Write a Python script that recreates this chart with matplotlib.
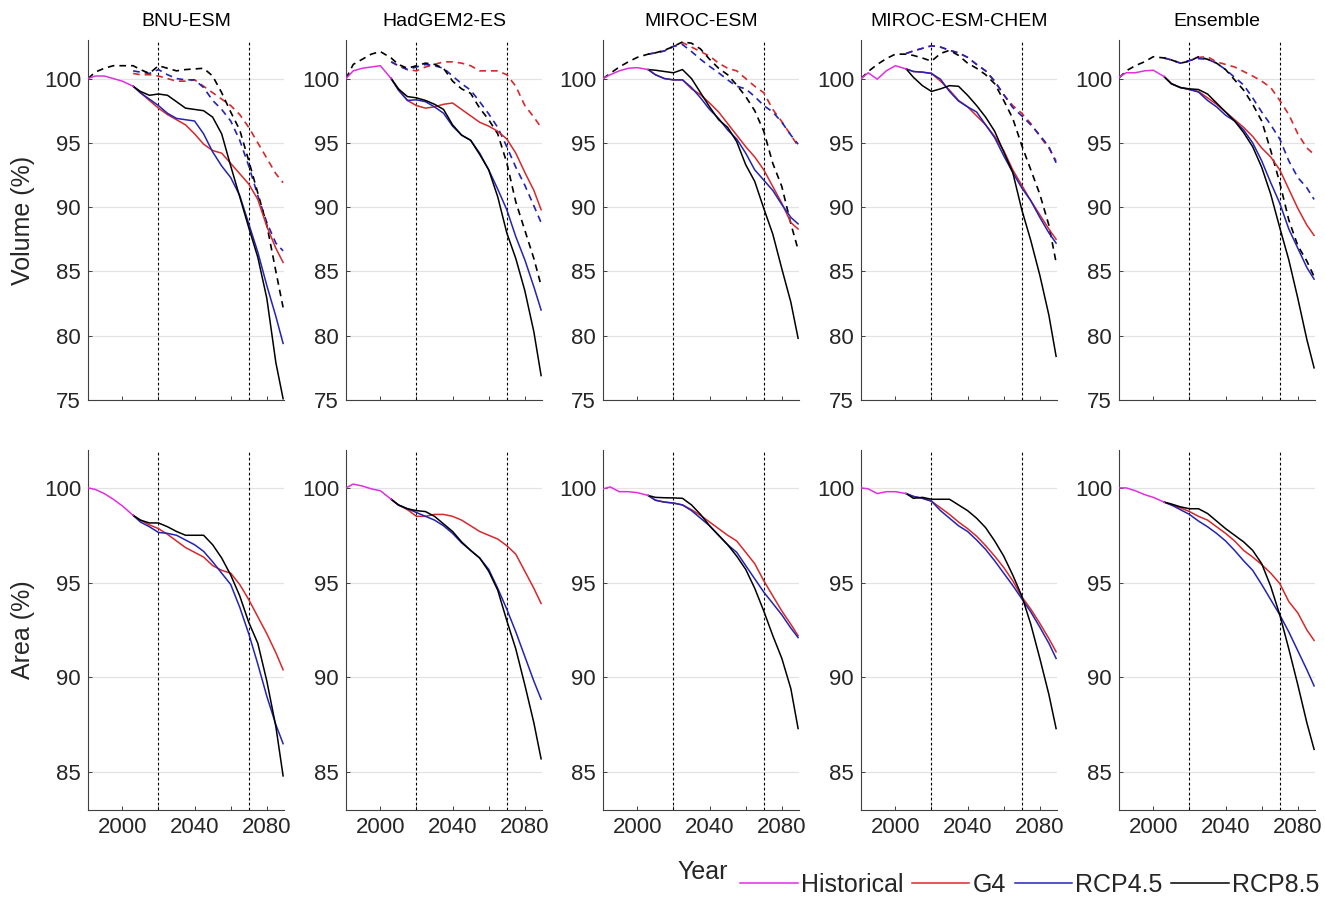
import numpy as np
import matplotlib.pyplot as plt
from matplotlib.lines import Line2D

plt.rcParams['font.family'] = ['Liberation Sans', 'DejaVu Sans']

### Data ###

models = ['BNU-ESM', 'HadGEM2-ES', 'MIROC-ESM', 'MIROC-ESM-CHEM', 'Ensemble']

hist_years = [1981, 1985, 1990, 1995, 2000, 2006]
fut_years = [2006, 2010, 2015, 2020, 2025, 2030, 2035, 2040, 2045, 2050,
             2055, 2060, 2065, 2070, 2075, 2080, 2085, 2089]
full_years = hist_years + fut_years[1:]

# BNU-ESM #
bnu_vol_hist = [100.0, 100.2, 100.2, 100.0, 99.8, 99.4]
bnu_vol_g4 = [99.4, 98.9, 98.3, 97.7, 97.2, 96.8, 96.4, 95.7, 94.9, 94.4, 94.2, 93.4, 92.6, 91.8, 90.6, 88.5, 86.8, 85.7]
bnu_vol_45 = [99.4, 98.9, 98.4, 97.9, 97.3, 96.9, 96.8, 96.7, 95.7, 94.3, 93.2, 92.3, 90.9, 88.7, 86.5, 83.9, 81.5, 79.4]
bnu_vol_85 = [99.4, 99.0, 98.7, 98.8, 98.7, 98.2, 97.7, 97.6, 97.5, 97.0, 95.7, 93.2, 90.8, 88.4, 86.1, 82.9, 77.9, 75.1]
bnu_vold_g4 = [100.4, 100.3, 100.3, 100.2, 100.0, 99.8, 99.8, 99.9, 99.4, 98.9, 98.4, 97.9, 97.2, 96.2, 95.0, 93.8, 92.6, 91.9]
bnu_vold_45 = [100.6, 100.5, 100.4, 100.7, 100.3, 100.0, 99.9, 99.9, 99.3, 98.3, 97.6, 96.7, 95.2, 93.2, 90.9, 88.8, 87.2, 86.6]
bnu_vold_85 = [100.0, 100.5, 100.8, 101.0, 101.0, 101.0, 100.7, 100.4, 101.0, 100.8, 100.6, 100.7, 100.75, 100.8,
               100.2, 98.9, 97.4, 96.0, 93.6, 91.1, 88.6, 85.0, 82.2]
bnu_area_hist = [100.0, 99.92, 99.7, 99.4, 99.05, 98.55]
bnu_area_g4 = [98.55, 98.3, 98.05, 97.85, 97.55, 97.2, 96.85, 96.6, 96.35, 95.9, 95.65, 95.5, 94.9, 94.1, 93.2, 92.3, 91.3, 90.4]
bnu_area_45 = [98.55, 98.2, 97.95, 97.65, 97.6, 97.5, 97.25, 97.0, 96.65, 96.1, 95.5, 94.9, 93.7, 92.3, 90.7, 89.0, 87.5, 86.5]
bnu_area_85 = [98.55, 98.3, 98.15, 98.15, 97.95, 97.7, 97.5, 97.5, 97.5, 97.0, 96.3, 95.4, 94.3, 92.9, 91.8, 89.8, 87.4, 84.8]

# HadGEM2-ES #
had_vol_hist = [100.0, 100.6, 100.8, 100.9, 101.0, 100.0]
had_vol_g4 = [100.0, 99.2, 98.3, 97.9, 97.7, 97.8, 98.0, 98.1, 97.6, 97.1, 96.6, 96.3, 95.9, 95.3, 94.2, 92.7, 91.3, 89.8]
had_vol_45 = [100.0, 99.1, 98.3, 98.35, 98.2, 97.8, 97.3, 96.3, 95.6, 95.2, 94.2, 92.9, 91.4, 89.8, 87.7, 85.9, 83.8, 82.0]
had_vol_85 = [100.0, 99.2, 98.6, 98.5, 98.3, 98.0, 97.6, 96.4, 95.6, 95.2, 94.1, 92.9, 90.8, 88.0, 86.0, 83.5, 80.3, 76.9]
had_vold_g4 = [101.3, 101.0, 100.7, 100.6, 100.9, 101.1, 101.3, 101.3, 101.2, 101.0, 100.6, 100.6, 100.6, 100.3, 99.4, 97.9, 97.0, 96.2]
had_vold_45 = [101.3, 101.0, 100.7, 100.9, 101.1, 101.0, 100.8, 100.2, 99.6, 99.1, 98.2, 97.25, 96.2, 94.7, 93.1, 91.7, 90.1, 88.8]
had_vold_85 = [100.0, 101.1, 101.5, 101.9, 102.1, 101.6, 101.1, 100.8, 101.0, 101.2, 101.1, 100.8, 99.8, 99.2,
               98.85, 97.7, 96.8, 95.7, 93.45, 90.4, 88.2, 86.0, 83.9]
had_area_hist = [100.0, 100.2, 100.1, 99.95, 99.85, 99.4]
had_area_g4 = [99.4, 99.1, 98.85, 98.5, 98.5, 98.6, 98.6, 98.5, 98.3, 98.0, 97.7, 97.5, 97.3, 96.95, 96.5, 95.6, 94.7, 93.9]
had_area_45 = [99.4, 99.1, 98.9, 98.7, 98.5, 98.3, 98.0, 97.6, 97.1, 96.7, 96.3, 95.7, 94.7, 93.6, 92.4, 91.1, 89.8, 88.85]
had_area_85 = [99.4, 99.1, 98.9, 98.8, 98.75, 98.5, 98.1, 97.7, 97.15, 96.7, 96.3, 95.6, 94.6, 93.0, 91.5, 89.6, 87.6, 85.7]

# MIROC-ESM #
miroc_vol_hist = [100.0, 100.3, 100.6, 100.8, 100.85, 100.7]
miroc_vol_g4 = [100.7, 100.3, 100.0, 99.9, 99.9, 99.2, 98.75, 98.1, 97.4, 96.5, 95.6, 94.7, 93.9, 92.9, 91.6, 90.3, 88.8, 88.3]
miroc_vol_45 = [100.7, 100.3, 100.0, 99.9, 99.9, 99.3, 98.5, 97.6, 96.9, 96.0, 95.3, 94.2, 92.9, 92.1, 91.3, 90.2, 89.2, 88.7]
miroc_vol_85 = [100.7, 100.65, 100.55, 100.45, 100.7, 100.0, 98.9, 97.8, 96.8, 96.2, 95.1, 93.3, 92.0, 89.9, 87.9, 85.2, 82.6, 79.8]
miroc_vold_g4 = [101.9, 102.0, 102.15, 102.5, 102.8, 102.45, 102.1, 101.75, 101.2, 100.8, 100.6, 100.0, 99.4, 98.9, 97.6, 96.65, 95.6, 94.75]
miroc_vold_45 = [101.9, 102.0, 102.15, 102.5, 102.65, 102.1, 101.5, 100.95, 100.45, 99.9, 99.4, 99.2, 98.6, 97.9, 97.4, 96.6, 95.6, 94.9]
miroc_vold_85 = [100.0, 100.4, 100.9, 101.3, 101.65, 101.9, 102.0, 102.2, 102.5, 102.85, 102.75, 102.3, 101.5, 100.8,
                 100.3, 99.5, 98.6, 97.5, 95.9, 93.4, 91.6, 88.7, 86.7]
miroc_area_hist = [99.95, 100.05, 99.8, 99.8, 99.75, 99.6]
miroc_area_g4 = [99.6, 99.35, 99.25, 99.2, 99.1, 98.85, 98.55, 98.2, 97.85, 97.5, 97.2, 96.6, 96.0, 95.1, 94.3, 93.5, 92.8, 92.2]
miroc_area_45 = [99.6, 99.35, 99.25, 99.2, 99.1, 98.8, 98.4, 98.0, 97.5, 97.0, 96.6, 95.9, 95.2, 94.5, 93.9, 93.3, 92.6, 92.1]
miroc_area_85 = [99.6, 99.5, 99.48, 99.47, 99.45, 99.1, 98.6, 98.0, 97.5, 97.0, 96.4, 95.7, 94.7, 93.5, 92.2, 91.0, 89.4, 87.3]

# MIROC-ESM-CHEM #
chem_vol_hist = [100.0, 100.45, 99.95, 100.6, 101.0, 100.75]
chem_vol_g4 = [100.75, 100.55, 100.5, 100.4, 99.8, 99.1, 98.3, 97.8, 97.1, 96.4, 95.5, 94.4, 92.9, 91.7, 90.5, 89.4, 88.3, 87.5]
chem_vol_45 = [100.75, 100.55, 100.5, 100.4, 99.95, 99.0, 98.25, 97.8, 97.4, 96.4, 95.4, 94.0, 92.7, 91.5, 90.5, 89.2, 88.0, 87.2]
chem_vol_85 = [100.75, 100.1, 99.45, 99.0, 99.2, 99.45, 99.4, 98.7, 97.9, 97.0, 95.9, 94.3, 92.7, 89.8, 87.4, 84.7, 81.6, 78.4]
chem_vold_g4 = [101.95, 102.15, 102.35, 102.55, 102.45, 102.2, 102.0, 101.65, 101.1, 100.6, 99.8, 98.75, 97.9, 97.3, 96.5, 95.5, 94.6, 93.6]
chem_vold_45 = [101.95, 102.15, 102.35, 102.55, 102.45, 102.2, 102.0, 101.65, 101.1, 100.6, 99.8, 98.75, 97.75, 97.1, 96.4, 95.6, 94.7, 93.45]
chem_vold_85 = [100.0, 100.55, 101.1, 101.55, 101.9, 101.9, 101.8, 101.6, 101.35, 101.95, 102.2, 101.8, 101.2, 100.8,
                100.3, 99.6, 98.3, 96.9, 94.8, 92.9, 91.0, 88.6, 85.7]
chem_area_hist = [100.0, 99.95, 99.7, 99.8, 99.8, 99.7]
chem_area_g4 = [99.7, 99.55, 99.45, 99.3, 98.95, 98.6, 98.2, 97.85, 97.45, 96.95, 96.4, 95.8, 95.1, 94.25, 93.6, 92.85, 92.05, 91.35]
chem_area_45 = [99.7, 99.55, 99.45, 99.3, 98.8, 98.4, 98.0, 97.7, 97.25, 96.75, 96.15, 95.5, 94.85, 94.15, 93.45, 92.65, 91.8, 91.0]
chem_area_85 = [99.7, 99.45, 99.5, 99.4, 99.4, 99.4, 99.1, 98.8, 98.4, 97.9, 97.2, 96.4, 95.4, 94.3, 92.8, 91.0, 89.1, 87.3]

# Ensemble #
ens_vol_hist = [100.1, 100.45, 100.45, 100.6, 100.65, 100.15]
ens_vol_g4 = [100.15, 99.6, 99.3, 99.15, 99.0, 98.5, 98.0, 97.4, 96.8, 96.2, 95.5, 94.6, 93.9, 92.9, 91.4, 89.9, 88.6, 87.8]
ens_vol_45 = [100.15, 99.6, 99.3, 99.15, 98.95, 98.3, 97.8, 97.15, 96.7, 96.0, 95.0, 93.6, 91.9, 90.3, 88.3, 86.8, 85.3, 84.4]
ens_vol_85 = [100.15, 99.6, 99.3, 99.2, 99.15, 98.8, 98.1, 97.4, 96.7, 95.8, 94.7, 93.1, 91.0, 88.4, 85.9, 82.9, 79.7, 77.5]
ens_vold_g4 = [101.6, 101.45, 101.2, 101.4, 101.65, 101.7, 101.3, 101.1, 100.9, 100.55, 100.2, 99.8, 99.3, 98.3, 97.2, 95.7, 94.6, 94.1]
ens_vold_45 = [101.6, 101.45, 101.2, 101.4, 101.55, 101.5, 101.2, 100.7, 100.1, 99.5, 98.5, 97.4, 96.4, 95.3, 93.6, 92.3, 91.5, 90.6]
ens_vold_85 = [100.05, 100.6, 101.0, 101.3, 101.7, 101.6, 101.45, 101.2, 101.35, 101.7, 101.5, 101.2, 100.7, 99.9,
               99.1, 98.0, 96.7, 94.4, 91.9, 89.0, 87.0, 85.8, 84.6]
ens_area_hist = [100.0, 100.0, 99.85, 99.65, 99.5, 99.25]
ens_area_g4 = [99.25, 99.1, 98.95, 98.75, 98.5, 98.3, 97.95, 97.6, 97.2, 96.7, 96.35, 95.95, 95.5, 94.95, 94.0, 93.4, 92.5, 91.95]
ens_area_45 = [99.25, 99.1, 98.85, 98.6, 98.25, 97.95, 97.6, 97.2, 96.7, 96.15, 95.65, 94.9, 94.1, 93.3, 92.4, 91.4, 90.4, 89.55]
ens_area_85 = [99.25, 99.15, 99.0, 98.9, 98.9, 98.65, 98.25, 97.85, 97.5, 97.15, 96.7, 96.0, 94.8, 93.3, 91.5, 89.6, 87.6, 86.2]

vol_solid = [
    (bnu_vol_hist, bnu_vol_g4, bnu_vol_45, bnu_vol_85),
    (had_vol_hist, had_vol_g4, had_vol_45, had_vol_85),
    (miroc_vol_hist, miroc_vol_g4, miroc_vol_45, miroc_vol_85),
    (chem_vol_hist, chem_vol_g4, chem_vol_45, chem_vol_85),
    (ens_vol_hist, ens_vol_g4, ens_vol_45, ens_vol_85),
]
vol_dashed = [
    (bnu_vold_g4, bnu_vold_45, bnu_vold_85),
    (had_vold_g4, had_vold_45, had_vold_85),
    (miroc_vold_g4, miroc_vold_45, miroc_vold_85),
    (chem_vold_g4, chem_vold_45, chem_vold_85),
    (ens_vold_g4, ens_vold_45, ens_vold_85),
]
area_solid = [
    (bnu_area_hist, bnu_area_g4, bnu_area_45, bnu_area_85),
    (had_area_hist, had_area_g4, had_area_45, had_area_85),
    (miroc_area_hist, miroc_area_g4, miroc_area_45, miroc_area_85),
    (chem_area_hist, chem_area_g4, chem_area_45, chem_area_85),
    (ens_area_hist, ens_area_g4, ens_area_45, ens_area_85),
]

### Style ###

c_hist = '#e02fe0'
c_g4 = '#d8282c'
c_45 = '#2323b5'
c_85 = '#000000'
axcol = '#404040'
txtcol = '#262626'
lw = 1.1

fig = plt.figure(figsize=(13.25, 8.98), dpi=100)
W, H = 1325.0, 898.0
lefts = [88, 346, 603, 861, 1119]


def style_axis(ax, ylim, yticks, xlabels):
    ax.set_xlim(1981, 2089.5)
    ax.set_ylim(*ylim)
    ax.set_yticks(yticks)
    ax.set_xticks([2000, 2020, 2040, 2060, 2080])
    if xlabels:
        ax.set_xticklabels(['2000', '', '2040', '', '2080'])
    else:
        ax.set_xticklabels([])
    ax.grid(axis='y', color='#e3e3e3', lw=0.9)
    ax.set_axisbelow(True)
    for s in ['top', 'right']:
        ax.spines[s].set_visible(False)
    for s in ['left', 'bottom']:
        ax.spines[s].set_color(axcol)
        ax.spines[s].set_linewidth(0.8)
    ax.tick_params(direction='in', length=3, width=0.7, color=axcol,
                   labelcolor=txtcol, labelsize=16, pad=5)
    for yr in [2020, 2070]:
        ax.axvline(yr, color='black', lw=0.8, ls=(0, (2.5, 2)), zorder=1)


for i, name in enumerate(models):
    l = lefts[i] / W
    axv = fig.add_axes([l, 1 - 400 / H, 196 / W, 360 / H])
    axa = fig.add_axes([l, 1 - 810 / H, 196 / W, 360 / H])
    style_axis(axv, (75, 103), [75, 80, 85, 90, 95, 100], False)
    style_axis(axa, (83, 102), [85, 90, 95, 100], True)
    axv.set_title(name, fontsize=14, pad=10, color='black')

    # dashed volume lines
    dg4, d45, d85 = vol_dashed[i]
    axv.plot(fut_years, dg4, color=c_g4, lw=1.2, ls=(0, (4, 3)), zorder=2)
    axv.plot(fut_years, d45, color=c_45, lw=1.2, ls=(0, (4, 3)), zorder=2)
    axv.plot(full_years, d85, color=c_85, lw=1.2, ls=(0, (4, 3)), zorder=2)

    for ax, series in [(axv, vol_solid[i]), (axa, area_solid[i])]:
        hist, g4, r45, r85 = series
        ax.plot(fut_years, g4, color=c_g4, lw=lw, zorder=3)
        ax.plot(fut_years, r45, color=c_45, lw=lw, zorder=3)
        ax.plot(fut_years, r85, color=c_85, lw=lw, zorder=3)
        ax.plot(hist_years, hist, color=c_hist, lw=lw, zorder=4)

    if i == 0:
        axv.set_ylabel('Volume (%)', fontsize=18, color=txtcol)
        axa.set_ylabel('Area (%)', fontsize=18, color=txtcol)
        axv.yaxis.set_label_coords(-0.27, 0.5)
        axa.yaxis.set_label_coords(-0.27, 0.5)

fig.text(703 / W, 1 - 872 / H, 'Year', fontsize=18, color=txtcol, ha='center', va='center')

handles = [Line2D([], [], color=c, lw=lw) for c in [c_hist, c_g4, c_45, c_85]]
fig.legend(handles, ['Historical', 'G4', 'RCP4.5', 'RCP8.5'], loc='center right',
           bbox_to_anchor=(1.005, 1 - 885 / H), ncol=4, frameon=False, fontsize=18,
           handlelength=2.3, handletextpad=0.12, columnspacing=0.35, borderpad=0.0,
           labelcolor=txtcol)

fig.savefig('out.png', dpi=100)
